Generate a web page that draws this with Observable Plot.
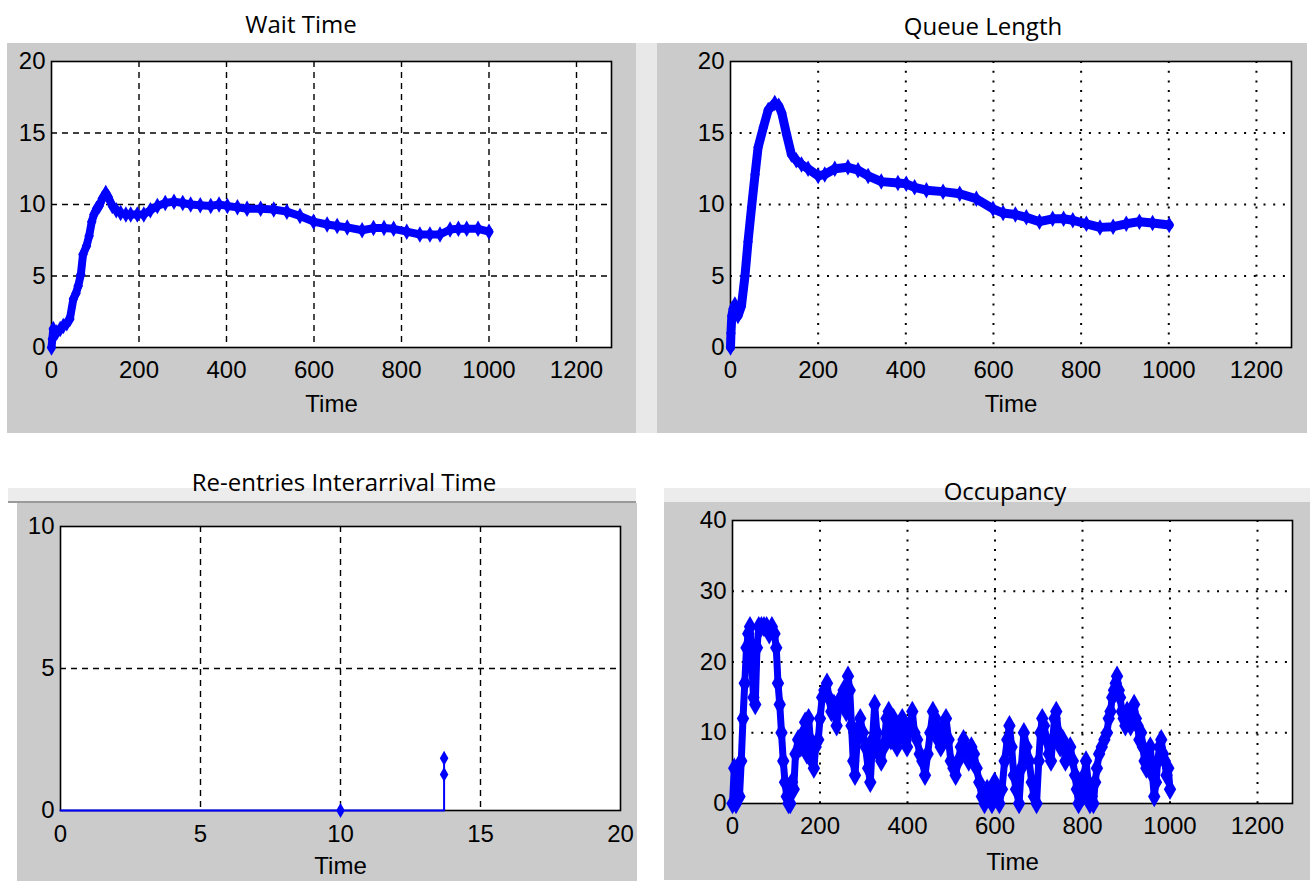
<!DOCTYPE html>
<html>
<head>
<meta charset="utf-8">
<script src="https://cdn.jsdelivr.net/npm/d3@7"></script>
<script src="https://cdn.jsdelivr.net/npm/@observablehq/plot@0.6"></script>
<style>
  html, body { margin: 0; padding: 0; background: #fff; }
  #root { position: relative; width: 1314px; height: 881px; overflow: hidden; }
  .abs { position: absolute; }
  .title { position: absolute; font-family: "Open Sans", "Noto Sans", sans-serif; font-size: 24px; color: #000; white-space: nowrap; transform: translate(-50%, -50%); }
</style>
</head>
<body>
<div id="root"></div>
<script>
// ---------- data ----------
const timeTicks = [0, 200, 400, 600, 800, 1000, 1200];
const queueTicksY = [0, 5, 10, 15, 20];
const waitTicksY = [0, 5, 10, 15, 20];
const occTicksY = [0, 10, 20, 30, 40];
const reTicksX = [0, 5, 10, 15, 20];
const reTicksY = [0, 5, 10];

// Wait Time series
const waitT = [0, 2, 4, 12, 20, 27, 35, 42, 50, 56, 61, 67, 72, 80, 86, 92, 97, 103, 109, 116, 124, 130, 139, 148, 158, 170, 181, 196, 211, 226, 242, 260, 280, 300, 318, 340, 364, 383, 402, 425, 447, 478, 508, 538, 568, 599, 630, 653, 676, 710, 736, 760, 782, 812, 842, 865, 888, 911, 930, 949, 975, 1000];
const waitV = [0, 0.6, 1.3, 1.05, 1.3, 1.5, 1.7, 2.0, 3.4, 3.8, 4.3, 5.1, 6.5, 7.1, 7.8, 8.8, 9.3, 9.7, 9.9, 10.4, 10.8, 10.5, 9.9, 9.6, 9.4, 9.3, 9.3, 9.3, 9.3, 9.6, 9.9, 10.1, 10.2, 10.1, 10.0, 9.95, 9.9, 10.0, 9.9, 9.8, 9.7, 9.7, 9.65, 9.5, 9.2, 8.8, 8.6, 8.5, 8.4, 8.2, 8.35, 8.35, 8.3, 8.1, 7.9, 7.9, 7.9, 8.25, 8.3, 8.3, 8.3, 8.1];

// Queue Length series
const queueT = [0, 1, 3, 6, 10, 17, 25, 33, 40, 48, 56, 63, 75, 86, 101, 110, 117, 128, 139, 150, 162, 177, 200, 215, 238, 268, 291, 314, 344, 382, 401, 420, 447, 485, 523, 561, 599, 622, 650, 675, 705, 735, 760, 781, 812, 843, 873, 903, 933, 963, 1001];
const queueV = [0, 1, 2.2, 2.7, 3, 2.2, 2.9, 5, 7.4, 9.8, 12.1, 14, 15.4, 16.6, 17.1, 16.9, 16.4, 14.9, 13.5, 13.1, 12.8, 12.5, 12.0, 12.1, 12.5, 12.6, 12.4, 12.0, 11.6, 11.5, 11.45, 11.2, 11.0, 10.9, 10.75, 10.4, 9.7, 9.4, 9.3, 9.1, 8.8, 9.0, 9.0, 8.9, 8.65, 8.4, 8.45, 8.65, 8.8, 8.7, 8.57];

// Re-entries Interarrival Time (stem)
const reT = [0, 10, 13.7, 13.7, 13.7];
const reV = [0, 0, 0, 1.27, 1.84];
const reMarkerIdx = [1, 3, 4];

// Occupancy series
const occT = [0, 4, 8, 12, 16, 20, 24, 28, 32, 36, 40, 44, 48, 52, 56, 60, 66, 72, 78, 84, 90, 96, 100, 104, 108, 112, 116, 120, 124, 128, 132, 136, 140, 144, 150, 156, 162, 166, 170, 174, 178, 182, 186, 190, 196, 200, 205, 210, 216, 220, 226, 232, 238, 244, 248, 254, 260, 264, 268, 272, 276, 280, 285, 292, 298, 304, 310, 315, 320, 325, 330, 334, 340, 346, 352, 357, 362, 368, 372, 376, 382, 388, 394, 399, 405, 411, 416, 422, 428, 434, 440, 446, 452, 458, 464, 470, 476, 482, 488, 494, 499, 505, 510, 516, 522, 528, 534, 540, 546, 552, 558, 564, 570, 576, 582, 587, 593, 599, 605, 610, 616, 622, 628, 633, 638, 643, 648, 655, 660, 666, 672, 678, 684, 689, 695, 700, 704, 708, 712, 718, 723, 728, 732, 736, 740, 745, 749, 755, 761, 766, 772, 778, 783, 787, 791, 796, 800, 804, 808, 813, 817, 821, 825, 829, 833, 838, 844, 850, 856, 860, 864, 868, 872, 876, 879, 883, 886, 890, 894, 898, 902, 906, 910, 914, 918, 922, 926, 930, 934, 938, 942, 946, 950, 955, 960, 964, 968, 972, 976, 980, 984, 988, 992, 996, 1000];
const occV = [0, 5, 0, 5, 1, 6, 12, 17, 22, 24, 25, 20, 15, 14, 22, 25, 25, 25, 25, 24, 25, 24, 22, 17, 14, 10, 6, 3, 1, 0, 0, 3, 2, 7, 9, 8, 10, 11.5, 7, 12, 9, 6, 5, 8, 9, 12, 15, 16, 17, 15, 13, 14, 11, 14, 15, 16, 13, 18, 16, 11, 6, 4, 9, 12, 10, 8, 5, 3, 9, 14, 10, 7, 6, 8, 12, 13, 9, 12, 10, 8, 11, 12, 9, 8, 11, 13, 10, 9, 7, 6, 4, 7, 10, 13, 12, 9, 8, 11, 12, 9, 6, 5, 4, 6, 8, 9, 7, 6, 8, 7, 5, 3, 1, 0, 2, 1, 0, 3, 1, 0, 2, 6, 9, 11, 8, 4, 2, 0, 5, 10, 8, 6, 3, 1, 0, 6, 10, 12, 11, 9, 7, 6, 9, 12, 13, 10, 8, 9, 6, 7, 8, 6, 4, 2, 0, 3, 1, 4, 6, 3, 0, 1, 0, 3, 5, 7, 8, 9, 10, 12, 13, 15, 16, 17, 18, 16, 15, 13, 12, 11, 13, 12, 11, 13, 14, 12, 11, 9, 10, 8, 6, 5, 7, 8, 4, 1, 3, 6, 8, 9, 7, 6, 4, 5, 2];

// ---------- build ----------
const BLUE = "#0000ff";
const root = document.getElementById("root");
const zip = (T, V) => T.map((t, i) => ({t, v: V[i]}));

function addBox(left, top, width, height, color) {
  const d = document.createElement("div");
  d.className = "abs";
  Object.assign(d.style, {left: left + "px", top: top + "px", width: width + "px", height: height + "px", background: color});
  root.appendChild(d);
}
function addTitle(text, cx, cy) {
  const d = document.createElement("div");
  d.className = "title";
  d.textContent = text;
  d.style.left = cx + "px";
  d.style.top = cy + "px";
  root.appendChild(d);
}

function panel(cfg) {
  const [mt, mr, mb, ml] = cfg.margins;
  const gridStyle = cfg.dotted
    ? {stroke: "#000", strokeOpacity: 1, strokeWidth: 2, strokeDasharray: "2,7.7"}
    : {stroke: "#000", strokeOpacity: 1, strokeWidth: 1.4, strokeDasharray: "6,5"};
  const xg = cfg.xTicks.filter(d => d > cfg.xDomain[0] && d < cfg.xDomain[1]);
  const yg = cfg.yTicks.filter(d => d > cfg.yDomain[0] && d < cfg.yDomain[1]);
  const svg = Plot.plot({
    width: cfg.width, height: cfg.height,
    marginTop: mt, marginRight: mr, marginBottom: mb, marginLeft: ml,
    style: {background: "#cbcbcb", fontFamily: "'Liberation Sans', Arial, sans-serif", fontSize: "24px", color: "#000", overflow: "visible"},
    x: {domain: cfg.xDomain},
    y: {domain: cfg.yDomain},
    marks: [
      Plot.frame({fill: "white", stroke: "none"}),
      Plot.gridX(xg, gridStyle),
      Plot.gridY(yg, gridStyle),
      Plot.frame({stroke: "#000", strokeWidth: 1.6}),
      ...cfg.marks,
      Plot.axisX(cfg.xTicks, {tickSize: 0, tickPadding: cfg.xPad, label: null, tickFormat: d => String(d)}),
      Plot.axisY(cfg.yTicks, {tickSize: 0, tickPadding: 6, label: null, tickFormat: d => String(d)}),
      Plot.text(["Time"], {frameAnchor: "bottom", dy: cfg.labelDy})
    ]
  });
  svg.style.position = "absolute";
  svg.style.left = cfg.left + "px";
  svg.style.top = cfg.top + "px";
  root.appendChild(svg);
}

// backgrounds / separators
addBox(636, 43, 21, 390, "#e8e8e8");
addBox(8, 488, 628, 13, "#ececec");
addBox(8, 501, 628, 2, "#9a9a9a");
addBox(664, 488, 646, 14, "#ececec");

const waitData = zip(waitT, waitV);
const queueData = zip(queueT, queueV);
const reData = zip(reT, reV);
const reMarkers = reMarkerIdx.map(i => reData[i]);
const occData = zip(occT, occV);

panel({
  left: 7, top: 43, width: 629, height: 390, margins: [18, 25, 86, 44],
  xDomain: [0, 1280], xTicks: timeTicks, yDomain: [0, 20], yTicks: waitTicksY, dotted: false, labelDy: 64, xPad: 13,
  marks: [
    Plot.line(waitData, {x: "t", y: "v", stroke: BLUE, strokeWidth: 8}),
    Plot.dot(waitData, {x: "t", y: "v", symbol: "diamond", r: 5, fill: BLUE, stroke: "none"})
  ]
});
panel({
  left: 657, top: 43, width: 650, height: 390, margins: [18, 16, 86, 73],
  xDomain: [0, 1280], xTicks: timeTicks, yDomain: [0, 20], yTicks: queueTicksY, dotted: true, labelDy: 64, xPad: 13,
  marks: [
    Plot.line(queueData, {x: "t", y: "v", stroke: BLUE, strokeWidth: 9}),
    Plot.dot(queueData, {x: "t", y: "v", symbol: "diamond", r: 5, fill: BLUE, stroke: "none"})
  ]
});
panel({
  left: 17, top: 503, width: 620, height: 378, margins: [23, 17, 71, 43],
  xDomain: [0, 20], xTicks: reTicksX, yDomain: [0, 10], yTicks: reTicksY, dotted: false, labelDy: 63, xPad: 14,
  marks: [
    Plot.line(reData, {x: "t", y: "v", stroke: BLUE, strokeWidth: 2}),
    Plot.dot(reMarkers, {x: "t", y: "v", symbol: "diamond", r: 4.5, fill: BLUE, stroke: "none"})
  ]
});
panel({
  left: 664, top: 502, width: 646, height: 378, margins: [18, 18, 77, 68],
  xDomain: [0, 1280], xTicks: timeTicks, yDomain: [0, 40], yTicks: occTicksY, dotted: true, labelDy: 66, xPad: 13,
  marks: [
    Plot.line(occData, {x: "t", y: "v", stroke: BLUE, strokeWidth: 7}),
    Plot.dot(occData, {x: "t", y: "v", symbol: "diamond", r: 6.5, fill: BLUE, stroke: "none"})
  ]
});

addTitle("Wait Time", 301, 23);
addTitle("Queue Length", 983, 25);
addTitle("Re-entries Interarrival Time", 344, 481);
addTitle("Occupancy", 1005, 490);
</script>
</body>
</html>
